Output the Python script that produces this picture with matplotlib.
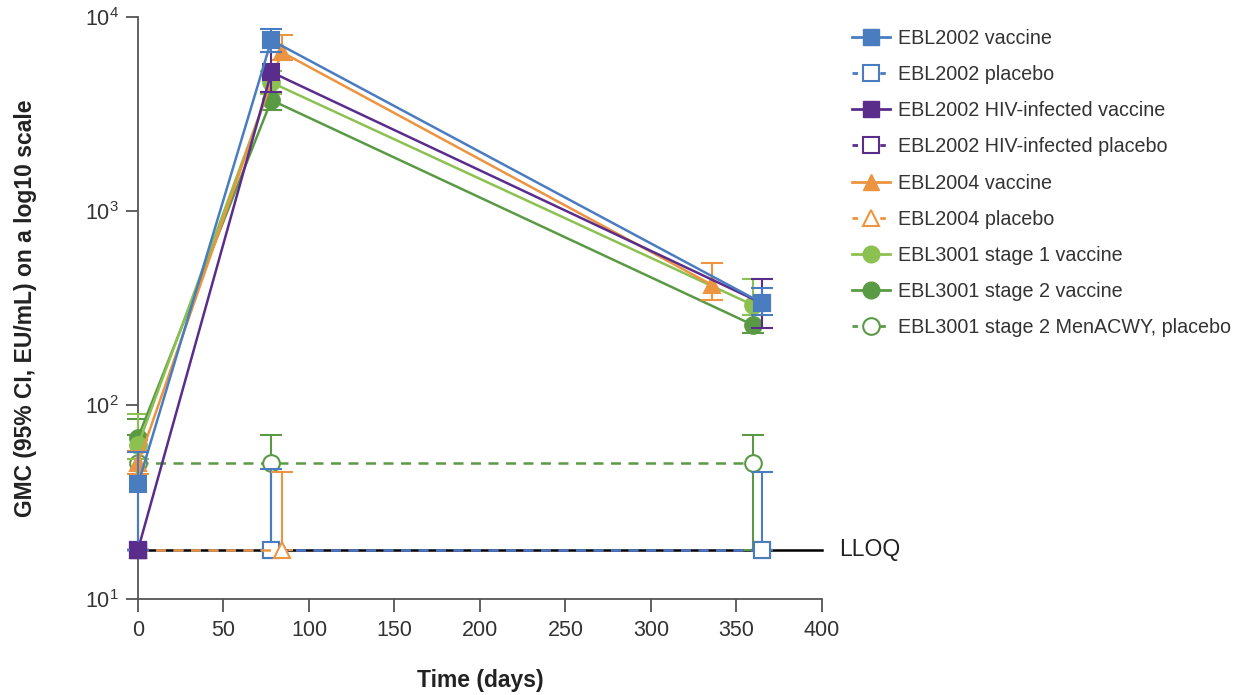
import matplotlib.pyplot as plt
from matplotlib.lines import Line2D

plt.rcParams['font.family'] = ['Liberation Sans', 'DejaVu Sans']

# values (GMC, EU/mL)
LLOQ = 18

days_2002 = [0, 78, 365]
ebl2002_vac = [39, 7600, 336]
ebl2002_vac_lo = [18, 6600, 291]
ebl2002_vac_hi = [57, 8700, 401]
ebl2002_pbo = [18, 18, 18]
ebl2002_pbo_hi = [18, 47, 45]

hiv_vac = [18, 5200, 335]
hiv_vac_lo = [18, 4100, 251]
hiv_vac_hi = [18, 6600, 445]
hiv_pbo = [18, 18, 18]

days_2004 = [0, 84, 336]
ebl2004_vac = [50, 6600, 415]
ebl2004_vac_lo = [44, 6000, 350]
ebl2004_vac_hi = [58, 8100, 540]
days_2004_pbo = [0, 84]
ebl2004_pbo = [18, 18]
ebl2004_pbo_hi = [18, 45]

days_3001 = [0, 78, 360]
st1_vac = [62, 4600, 327]
st1_vac_lo = [53, 4000, 290]
st1_vac_hi = [90, 5300, 445]
st2_vac = [68, 3730, 258]
st2_vac_lo = [58, 3330, 235]
st2_vac_hi = [85, 4100, 290]
men_pbo = [50, 50, 50]
men_pbo_lo = [18, 18, 18]
men_pbo_hi = [70, 70, 70]

BLUE = '#4a7cc0'
PURPLE = '#5a2d8c'
ORANGE = '#ec9440'
LGREEN = '#8cc152'
DGREEN = '#5a9a44'


def errs(vals, lo, hi):
	return [[v - l for v, l in zip(vals, lo)], [h - v for v, h in zip(vals, hi)]]


def series(ax, x, y, lo, hi, color, marker, filled, ls, z, ms=12):
	ax.errorbar(x, y, yerr=errs(y, lo, hi), color=color, ls=ls, lw=1.8,
		marker=marker, ms=ms, mfc=color if filled else 'white', mec=color, mew=1.5,
		capsize=8, capthick=1.5, elinewidth=1.5, zorder=z, clip_on=False,
		dashes=(4, 3) if ls == '--' else (None, None))


fig = plt.figure(figsize=(12.49, 6.95), dpi=100)
ax = fig.add_axes([0.1105, 0.138, 0.5475, 0.8375])

ax.plot([0, 400], [LLOQ, LLOQ], color='black', lw=1.8, zorder=1, clip_on=False)

series(ax, days_3001, men_pbo, men_pbo_lo, men_pbo_hi, DGREEN, 'o', False, '--', 2)
series(ax, days_2002, ebl2002_pbo, ebl2002_pbo, ebl2002_pbo_hi, BLUE, 's', False, '--', 3)
series(ax, days_2004_pbo, ebl2004_pbo, ebl2004_pbo, ebl2004_pbo_hi, ORANGE, '^', False, '--', 3)
series(ax, days_2002, hiv_pbo, hiv_pbo, hiv_pbo, PURPLE, 's', False, '--', 2)
series(ax, days_3001, st2_vac, st2_vac_lo, st2_vac_hi, DGREEN, 'o', True, '-', 4)
series(ax, days_3001, st1_vac, st1_vac_lo, st1_vac_hi, LGREEN, 'o', True, '-', 4)
series(ax, days_2004, ebl2004_vac, ebl2004_vac_lo, ebl2004_vac_hi, ORANGE, '^', True, '-', 5)
series(ax, days_2002, hiv_vac, hiv_vac_lo, hiv_vac_hi, PURPLE, 's', True, '-', 6)
series(ax, days_2002, ebl2002_vac, ebl2002_vac_lo, ebl2002_vac_hi, BLUE, 's', True, '-', 7)
# HIV vaccine marker at day 0 sits on top
ax.plot([0], [hiv_vac[0]], marker='s', ms=12, color=PURPLE, zorder=8, clip_on=False)

ax.text(410, LLOQ, 'LLOQ', va='center', ha='left', fontsize=16.5, color='#222222')

ax.set_yscale('log')
ax.set_ylim(10, 10000)
ax.set_xlim(0, 400)
ax.set_xticks(range(0, 401, 50))
ax.minorticks_off()
ax.yaxis.set_minor_locator(plt.NullLocator())
for side in ['top', 'right']:
	ax.spines[side].set_visible(False)
for side in ['left', 'bottom']:
	ax.spines[side].set_color('#555555')
	ax.spines[side].set_linewidth(1.3)
ax.tick_params(axis='both', labelsize=15.5, colors='#555555', labelcolor='#333333', length=9, width=1.3)
ax.tick_params(axis='x', pad=6)
ax.tick_params(axis='y', pad=5)
ax.set_xlabel('Time (days)', fontsize=16.5, fontweight='bold', color='#222222', labelpad=20)
ax.set_ylabel('GMC (95% CI, EU/mL) on a log10 scale', fontsize=16.5, fontweight='bold', color='#222222', labelpad=34)

handles = [
	Line2D([], [], color=BLUE, marker='s', ms=12, lw=2),
	Line2D([], [], color=BLUE, marker='s', ms=12, mfc='white', mew=1.5, lw=2, ls=(0, (2, 3))),
	Line2D([], [], color=PURPLE, marker='s', ms=12, lw=2),
	Line2D([], [], color=PURPLE, marker='s', ms=12, mfc='white', mew=1.5, lw=2, ls=(0, (2, 3))),
	Line2D([], [], color=ORANGE, marker='^', ms=12, lw=2),
	Line2D([], [], color=ORANGE, marker='^', ms=12, mfc='white', mew=1.5, lw=2, ls=(0, (2, 3))),
	Line2D([], [], color=LGREEN, marker='o', ms=12, lw=2),
	Line2D([], [], color=DGREEN, marker='o', ms=12, lw=2),
	Line2D([], [], color=DGREEN, marker='o', ms=12, mfc='white', mew=1.5, lw=2, ls=(0, (2, 3))),
]
labels = ['EBL2002 vaccine', 'EBL2002 placebo', 'EBL2002 HIV-infected vaccine',
	'EBL2002 HIV-infected placebo', 'EBL2004 vaccine', 'EBL2004 placebo',
	'EBL3001 stage 1 vaccine', 'EBL3001 stage 2 vaccine', 'EBL3001 stage 2 MenACWY, placebo']
leg = fig.legend(handles, labels, loc='upper left', bbox_to_anchor=(0.668, 0.984), frameon=False,
	fontsize=14.2, labelspacing=0.87, handlelength=1.9, handletextpad=0.45)
for t in leg.get_texts():
	t.set_color('#333333')

plt.savefig('out.png', dpi=100)
